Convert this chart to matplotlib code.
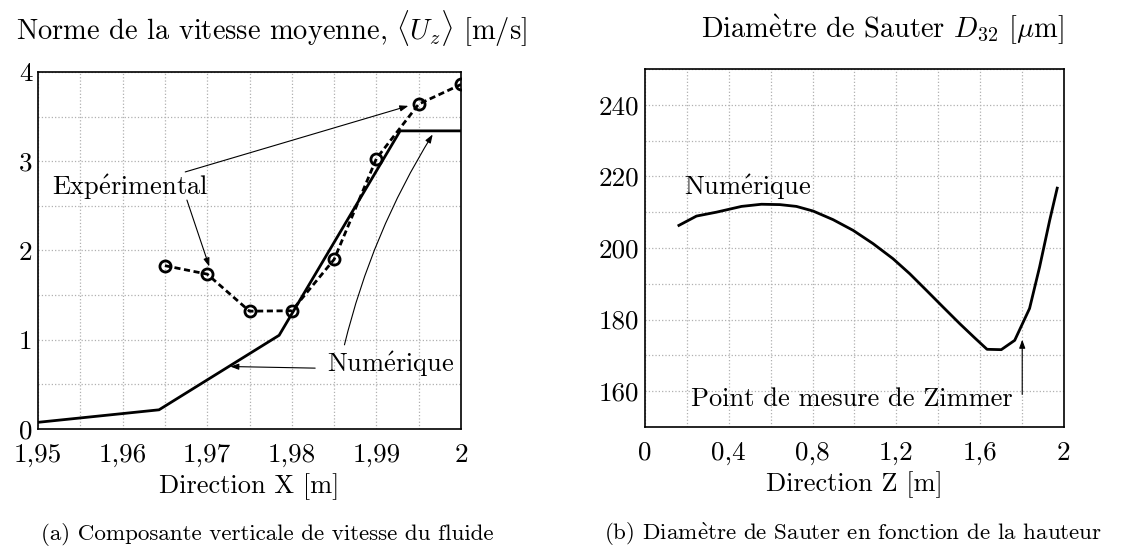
import numpy as np
import matplotlib
matplotlib.use("Agg")
import matplotlib.pyplot as plt

plt.rcParams['font.family'] = 'serif'
plt.rcParams['font.serif'] = ['cmr10']
plt.rcParams['mathtext.fontset'] = 'cm'
plt.rcParams['axes.unicode_minus'] = False

E_ACUTE = r'$\acute{\mathrm{e}}$'
E_GRAVE = r'$\grave{\mathrm{e}}$'

# --- donnees (a) : vitesse verticale ---
x_num = [1.95, 1.9643, 1.9785, 1.9928, 2.0]
u_num = [0.075, 0.215, 1.05, 3.34, 3.34]

x_exp = [1.965, 1.970, 1.975, 1.980, 1.985, 1.990, 1.995, 2.000]
u_exp = [1.83, 1.735, 1.32, 1.325, 1.90, 3.03, 3.64, 3.86]

xticks_a = [1.95, 1.96, 1.97, 1.98, 1.99, 2.0]
xtick_labels_a = ['1,95', '1,96', '1,97', '1,98', '1,99', '2']
yticks_a = [0, 1, 2, 3, 4]

# --- donnees (b) : diametre de Sauter ---
z_num = [0.162, 0.246, 0.342, 0.461, 0.556, 0.644, 0.723, 0.803, 0.898, 0.994,
         1.089, 1.184, 1.264, 1.343, 1.423, 1.502, 1.574, 1.633, 1.701, 1.765,
         1.836, 1.884, 1.932, 1.968]
d32_num = [206.3, 208.9, 210.0, 211.6, 212.2, 212.1, 211.6, 210.3, 207.9, 204.9,
           201.2, 197.0, 192.8, 188.2, 183.5, 178.9, 174.9, 171.7, 171.6, 174.2,
           183.1, 194.7, 207.7, 216.7]

xticks_b = [0, 0.4, 0.8, 1.2, 1.6, 2.0]
xtick_labels_b = ['0', '0,4', '0,8', '1,2', '1,6', '2']
yticks_b = [160, 180, 200, 220, 240]

fs = 19.5      # graduations
fs_txt = 19    # annotations / axes
fig = plt.figure(figsize=(11.25, 5.51), dpi=100)
ax1 = fig.add_axes([0.0338, 0.2214, 0.376, 0.648])
ax2 = fig.add_axes([0.5733, 0.225, 0.3724, 0.65])

grid_kw = dict(color='#b0b0b0', linestyle=':', linewidth=0.9)

# ---- (a)
ax1.plot(x_num, u_num, color='black', lw=2.0, solid_joinstyle='miter')
ax1.plot(x_exp, u_exp, color='black', lw=2.0, ls=(0, (2.2, 1.3)),
         marker='o', ms=8, mfc='none', mew=2.0)
ax1.set_xlim(1.95, 2.0)
ax1.set_ylim(0, 4)
ax1.set_xticks(xticks_a)
ax1.set_xticklabels(xtick_labels_a)
ax1.set_yticks(yticks_a)
ax1.set_xticks(np.arange(1.95, 2.0001, 0.005), minor=True)
ax1.set_yticks(np.arange(0, 4.001, 0.5), minor=True)
ax1.grid(True, which='both', **grid_kw)

ax1.text(1.9517, 2.71, 'Exp' + E_ACUTE + 'rimental', fontsize=fs_txt, va='center')
arr = dict(arrowstyle='-|>,head_length=0.5,head_width=0.18', color='black', lw=0.8,
           shrinkA=0, shrinkB=0)
ax1.annotate('', xy=(1.99378, 3.62), xytext=(1.9674, 2.88), arrowprops=arr)
ax1.annotate('', xy=(1.97024, 1.82), xytext=(1.9676, 2.565), arrowprops=arr)
ax1.text(1.98413, 0.72, 'Num' + E_ACUTE + 'rique', fontsize=fs_txt, va='center')
ax1.annotate('', xy=(1.97272, 0.70), xytext=(1.98276, 0.682), arrowprops=arr)
ax1.annotate('', xy=(1.99665, 3.30), xytext=(1.98622, 0.943),
             arrowprops=dict(arr, connectionstyle='arc3,rad=-0.08'))

# ---- (b)
ax2.plot(z_num, d32_num, color='black', lw=2.0)
ax2.set_xlim(0, 2)
ax2.set_ylim(150, 250)
ax2.set_xticks(xticks_b)
ax2.set_xticklabels(xtick_labels_b)
ax2.set_yticks(yticks_b)
ax2.set_xticks(np.arange(0, 2.001, 0.2), minor=True)
ax2.set_yticks(np.arange(150, 250.1, 10), minor=True)
ax2.grid(True, which='both', **grid_kw)

ax2.text(0.186, 217.0, 'Num' + E_ACUTE + 'rique', fontsize=fs_txt, va='center')
ax2.text(0.219, 157.9, 'Point de mesure de Zimmer', fontsize=fs_txt, va='center')
ax2.annotate('', xy=(1.801, 174.4), xytext=(1.801, 159.1), arrowprops=arr)

for ax in (ax1, ax2):
    ax.tick_params(which='both', length=0, labelsize=fs)
    ax.tick_params(axis='x', pad=10)
    ax.tick_params(axis='y', pad=4)
    for s in ax.spines.values():
        s.set_linewidth(1.2)
    ax.set_axisbelow(True)

ax1.set_xlabel('Direction X [m]', fontsize=fs_txt, labelpad=5)
ax2.set_xlabel('Direction Z [m]', fontsize=fs_txt, labelpad=5)

fig.text(0.241, 0.947, r'Norme de la vitesse moyenne, $\langle U_z \rangle$ [m/s]',
         fontsize=20.5, ha='center', va='center')
fig.text(0.784, 0.947, 'Diam' + E_GRAVE + r'tre de Sauter $D_{32}$ [$\mu$m]',
         fontsize=20.5, ha='center', va='center')
fig.text(0.2373, 0.03, '(a) Composante verticale de vitesse du fluide',
         fontsize=16.6, ha='center', va='center')
fig.text(0.758, 0.03, '(b) Diam' + E_GRAVE + 'tre de Sauter en fonction de la hauteur',
         fontsize=16.6, ha='center', va='center')

fig.savefig('out.png', dpi=100)
